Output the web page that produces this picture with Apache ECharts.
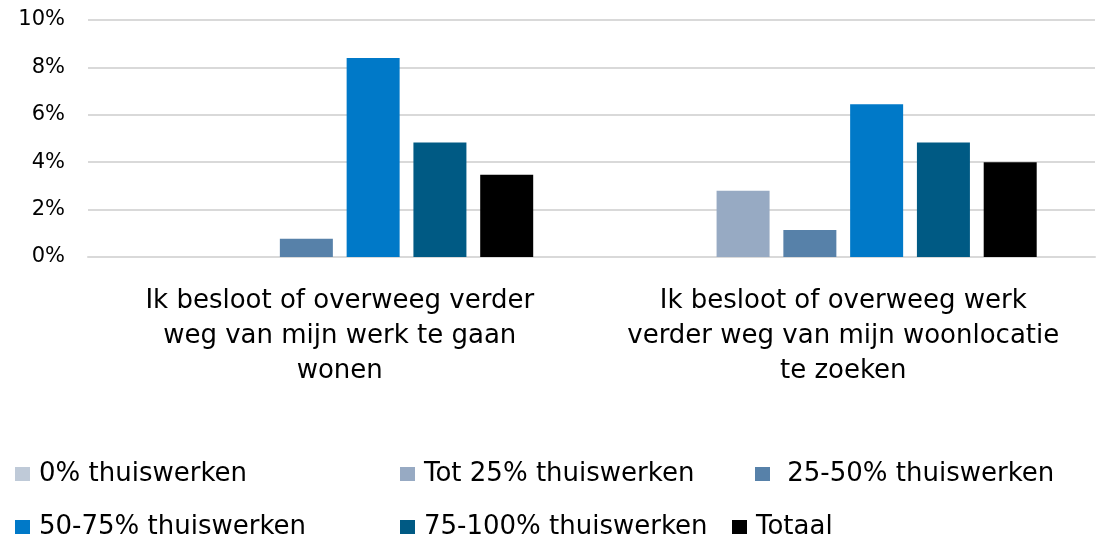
<!DOCTYPE html>
<html>
<head>
<meta charset="utf-8">
<script src="https://cdn.jsdelivr.net/npm/echarts@6/dist/echarts.min.js"></script>
<style>
  html, body { margin: 0; padding: 0; background: #fff; }
  #chart { width: 1097px; height: 539px; }
</style>
</head>
<body>
<div id="chart"></div>
<script>
// categorieën (met regelafbreking zoals in het origineel)
const categories = [
  "Ik besloot of overweeg verder\nweg van mijn werk te gaan\nwonen",
  "Ik besloot of overweeg werk\nverder weg van mijn woonlocatie\nte zoeken"
];
const seriesNames = [
  "0% thuiswerken",
  "Tot 25% thuiswerken",
  " 25-50% thuiswerken",
  "50-75% thuiswerken",
  "75-100% thuiswerken",
  "Totaal"
];
// waarden in procenten
const thuis0 = [0, 0];
const tot25 = [0, 2.8];
const thuis25_50 = [0.77, 1.14];
const thuis50_75 = [8.4, 6.45];
const thuis75_100 = [4.83, 4.83];
const totaal = [3.47, 4.0];
const yTicks = [0, 2, 4, 6, 8, 10];

const colors = ["#BFCAD8", "#97AAC3", "#5781A9", "#0079C8", "#005A84", "#000000"];
const values = [thuis0, tot25, thuis25_50, thuis50_75, thuis75_100, totaal];

const font = "DejaVu Sans";
const chart = echarts.init(document.getElementById("chart"));

// elke legenda-item apart geplaatst, zoals de Excel-legenda
const legendPos = [[10, 456], [395, 456], [750, 456], [10, 509], [395, 509], [727, 509]];
const legends = seriesNames.map((name, i) => ({
  data: [name],
  left: legendPos[i][0],
  top: legendPos[i][1],
  icon: "rect",
  itemWidth: 15,
  itemHeight: 14,
  selectedMode: false,
  textStyle: { fontFamily: font, fontSize: 26, color: "#000", padding: [0, 0, 0, 4] }
}));

chart.setOption({
  animation: false,
  color: colors,
  textStyle: { fontFamily: font },
  grid: { left: 88, right: 2, top: 20, bottom: 282, containLabel: false },
  legend: legends,
  xAxis: {
    type: "category",
    data: categories,
    axisLine: { lineStyle: { color: "#D9D9D9", width: 2 } },
    axisTick: { show: false },
    axisLabel: {
      interval: 0,
      margin: 27,
      fontFamily: font,
      fontSize: 26,
      lineHeight: 35,
      color: "#000",
      align: "center"
    }
  },
  yAxis: {
    type: "value",
    min: yTicks[0],
    max: yTicks[yTicks.length - 1],
    interval: 2,
    axisLine: { show: false },
    axisTick: { show: false },
    splitLine: { lineStyle: { color: "#D9D9D9", width: 2 } },
    axisLabel: {
      margin: 23,
      fontFamily: font,
      fontSize: 21,
      color: "#000",
      formatter: v => v + "%"
    }
  },
  series: seriesNames.map((name, i) => ({
    name: name,
    type: "bar",
    data: values[i],
    barWidth: 53,
    barGap: "26%",
    itemStyle: { color: colors[i] }
  }))
});
</script>
</body>
</html>
